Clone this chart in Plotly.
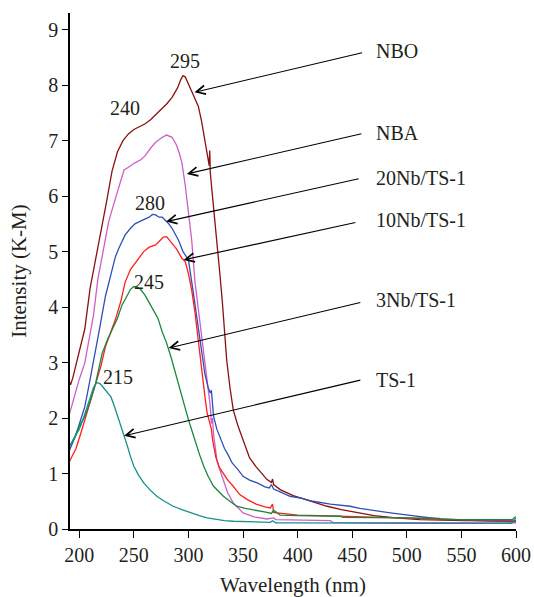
import plotly.graph_objects as go

# ---------------- data ----------------
wl_nbo = [190, 192, 194, 197, 200, 205, 210, 215, 220, 225, 230, 235, 240, 245, 250, 255, 260, 265, 270, 275,
          280, 285, 290, 293, 295, 297, 300, 303, 306, 309, 312, 315, 318, 319, 319.5, 320, 322, 325, 327, 329,
          331, 333, 335, 338, 341, 345, 350, 356, 362, 368, 372, 376, 377, 378, 384, 396, 415, 427, 440, 457,
          470, 490, 512, 553, 600]
int_nbo = [2.7, 2.6, 2.72, 2.95, 3.2, 3.6, 4.35, 4.85, 5.35, 5.9, 6.45, 6.8, 7.0, 7.12, 7.2, 7.25, 7.3, 7.37, 7.47, 7.56,
           7.66, 7.78, 7.95, 8.1, 8.17, 8.15, 8.02, 7.9, 7.78, 7.62, 7.35, 7.0, 6.68, 6.55, 6.82, 6.42, 6.0, 5.42, 4.97, 4.55,
           4.1, 3.6, 3.05, 2.55, 2.15, 1.88, 1.62, 1.28, 1.12, 0.97, 0.89, 0.84, 0.9, 0.8, 0.71, 0.6, 0.49, 0.41, 0.35, 0.28,
           0.24, 0.2, 0.17, 0.15, 0.14]

wl_nba = [190, 192, 196, 200, 205, 210, 213, 217, 221, 227, 233, 237, 241, 245, 251, 256, 260, 266, 270, 276,
          280, 285, 289, 292, 294, 297, 300, 303, 306, 309, 312, 315, 317, 320, 321, 322, 323, 326, 329, 332,
          336, 341, 346, 350, 360, 372, 378, 380, 430, 432, 600]
int_nba = [2.0, 2.15, 2.45, 2.7, 2.99, 3.5, 3.85, 4.5, 4.9, 5.55, 5.95, 6.2, 6.47, 6.52, 6.6, 6.65, 6.72, 6.88, 6.97, 7.06,
           7.1, 7.06, 6.92, 6.75, 6.6, 6.2, 5.75, 5.2, 4.45, 3.95, 3.5, 3.0, 2.62, 2.21, 1.9, 2.0, 1.7, 1.25, 1.05, 0.89,
           0.65, 0.47, 0.36, 0.29, 0.22, 0.18, 0.2, 0.17, 0.15, 0.12, 0.11]

wl_20nb = [190, 193, 197, 201, 205, 208, 212, 218, 224, 229, 233, 236, 242, 247, 251, 256, 260, 264, 267, 270,
           273, 276, 279, 282, 285, 288, 291, 295, 300, 304, 309, 312, 315, 318, 320, 321, 322, 323, 326, 330,
           333, 336, 340, 345, 350, 356, 363, 370, 374, 376, 378, 385, 393, 404, 414, 430, 448, 457, 470, 485,
           505, 530, 555, 576, 600]
int_20nb = [1.37, 1.5, 1.7, 1.95, 2.2, 2.5, 2.9, 3.55, 4.2, 4.6, 4.9, 5.05, 5.3, 5.42, 5.5, 5.55, 5.58, 5.62, 5.67, 5.66,
            5.62, 5.62, 5.56, 5.5, 5.42, 5.32, 5.2, 5.0, 4.85, 4.32, 3.6, 3.2, 2.8, 2.55, 2.45, 2.5, 2.2, 2.03, 1.8, 1.6,
            1.45, 1.35, 1.19, 1.08, 0.95, 0.88, 0.83, 0.76, 0.74, 0.8, 0.72, 0.66, 0.59, 0.55, 0.5, 0.45, 0.41, 0.37, 0.33, 0.29,
            0.24, 0.18, 0.16, 0.14, 0.13]

wl_10nb = [190, 193, 197, 201, 205, 210, 215, 220, 224, 229, 233, 238, 242, 247, 254, 259, 264, 270, 274, 277,
           280, 282, 285, 289, 294, 297, 300, 303, 306, 308, 312, 315, 317, 319, 321, 322, 325, 328, 332, 336,
           341, 347, 354, 362, 370, 375, 377, 378, 381, 390, 400, 420, 439, 470, 500, 550, 600]
int_10nb = [1.18, 1.3, 1.45, 1.7, 1.97, 2.3, 2.63, 2.95, 3.29, 3.55, 3.77, 4.1, 4.45, 4.68, 4.88, 5.0, 5.08, 5.12, 5.2, 5.26,
            5.27, 5.22, 5.15, 5.05, 4.88, 4.82, 4.6, 4.3, 3.9, 3.55, 2.85, 2.4, 2.1, 1.95, 1.8, 1.62, 1.3, 1.12, 1.0, 0.88,
            0.77, 0.62, 0.53, 0.45, 0.4, 0.38, 0.45, 0.3, 0.29, 0.27, 0.25, 0.24, 0.23, 0.2, 0.19, 0.17, 0.15]

wl_3nb = [190, 193, 196, 200, 205, 210, 215, 221, 226, 230, 235, 239, 244, 247, 250, 253, 256, 260, 264, 268,
          272, 276, 280, 284, 288, 292, 296, 300, 305, 310, 314, 318, 323, 328, 332, 338, 344, 352, 362, 372,
          376, 378, 384, 400, 440, 441, 500, 530, 531, 597, 598, 600]
int_3nb = [1.49, 1.55, 1.67, 1.85, 2.03, 2.3, 2.63, 3.17, 3.42, 3.59, 3.8, 4.03, 4.22, 4.32, 4.37, 4.36, 4.32, 4.22, 4.08, 3.94,
           3.8, 3.55, 3.35, 3.1, 2.8, 2.53, 2.25, 1.97, 1.65, 1.35, 1.13, 0.95, 0.77, 0.66, 0.59, 0.5, 0.41, 0.37, 0.34, 0.3,
           0.28, 0.34, 0.25, 0.24, 0.23, 0.21, 0.2, 0.19, 0.17, 0.17, 0.2, 0.22]

wl_ts1 = [190, 193, 196, 200, 203, 206, 210, 213, 216, 219, 222, 226, 229, 232, 235, 238, 241, 244, 247, 250,
          254, 259, 265, 271, 278, 286, 294, 302, 310, 317, 325, 333, 341, 355, 370, 375, 377, 380, 400, 450,
          500, 550, 596, 598, 600]
int_ts1 = [1.45, 1.55, 1.65, 1.8, 1.95, 2.12, 2.38, 2.55, 2.64, 2.62, 2.55, 2.45, 2.38, 2.22, 2.05, 1.88, 1.7, 1.5, 1.3, 1.13,
           0.98, 0.83, 0.7, 0.59, 0.5, 0.41, 0.35, 0.29, 0.24, 0.2, 0.17, 0.15, 0.14, 0.13, 0.12, 0.12, 0.15, 0.11, 0.11, 0.1,
           0.1, 0.1, 0.1, 0.15, 0.2]

series_names = ["NBO", "NBA", "20Nb/TS-1", "10Nb/TS-1", "3Nb/TS-1", "TS-1"]
series_x = [wl_nbo, wl_nba, wl_20nb, wl_10nb, wl_3nb, wl_ts1]
series_y = [int_nbo, int_nba, int_20nb, int_10nb, int_3nb, int_ts1]
series_colors = ["#8B1010", "#CC5FC8", "#2F4FB8", "#FF1E1E", "#17883A", "#17908E"]

# arrow head (on curve), arrow tail (near label), label y
arrow_head_x = [305.5, 298.5, 279.5, 295.5, 281.8, 241.0]
arrow_head_y = [7.87, 6.40, 5.54, 4.85, 3.26, 1.68]
arrow_tail_x = [460.4, 459.8, 457.3, 454.3, 458.8, 458.8]
arrow_tail_y = [8.59, 7.13, 6.32, 5.53, 4.09, 2.69]
label_x = 470.0
label_y = [8.61, 7.13, 6.32, 5.57, 4.13, 2.69]

peak_labels = ["295", "240", "280", "245", "215"]
peak_x = [296.4, 242.1, 264.4, 263.5, 235.1]
peak_y = [8.44, 7.59, 5.87, 4.45, 2.74]

x_ticks = [200, 250, 300, 350, 400, 450, 500, 550, 600]
y_ticks = [0, 1, 2, 3, 4, 5, 6, 7, 8, 9]

FONT = "Liberation Serif, Times New Roman, serif"
TXT = "#231f20"
FS = 20

fig = go.Figure()
for name, xs, ys, c in zip(series_names, series_x, series_y, series_colors):
    fig.add_trace(go.Scatter(x=xs, y=ys, mode="lines", name=name,
                             line=dict(color=c, width=1.3), showlegend=False))

annotations = []
for hx, hy, tx, ty in zip(arrow_head_x, arrow_head_y, arrow_tail_x, arrow_tail_y):
    annotations.append(dict(x=hx, y=hy, ax=tx, ay=ty, xref="x", yref="y", axref="x", ayref="y",
                            text="", showarrow=True, arrowhead=5, arrowsize=1.6, arrowwidth=1.1,
                            arrowcolor="black", standoff=0))
for name, ly in zip(series_names, label_y):
    annotations.append(dict(x=label_x, y=ly, xref="x", yref="y", text=name, showarrow=False,
                            xanchor="left", yanchor="middle", font=dict(family=FONT, size=FS, color=TXT)))
for t, px, py in zip(peak_labels, peak_x, peak_y):
    annotations.append(dict(x=px, y=py, xref="x", yref="y", text=t, showarrow=False,
                            xanchor="center", yanchor="middle", font=dict(family=FONT, size=FS, color=TXT)))

fig.update_layout(
    width=534, height=597,
    margin=dict(l=70, r=18, t=13, b=68),
    paper_bgcolor="white", plot_bgcolor="white",
    font=dict(family=FONT, size=FS, color=TXT),
    annotations=annotations,
    xaxis=dict(range=[191.5, 600], tickvals=x_ticks, ticks="outside", ticklen=7, tickwidth=1.3,
               tickcolor="black", showline=True, linecolor="black", linewidth=1.5, showgrid=False,
               zeroline=False, automargin=False, tickfont=dict(family=FONT, size=FS, color=TXT),
               title=dict(text="Wavelength (nm)", font=dict(family=FONT, size=21, color=TXT), standoff=14)),
    yaxis=dict(range=[0, 9.3], tickvals=y_ticks, ticks="outside", ticklen=6, tickwidth=1.3,
               tickcolor="black", showline=True, linecolor="black", linewidth=1.5, showgrid=False,
               zeroline=False, automargin=False, tickfont=dict(family=FONT, size=FS, color=TXT),
               title=dict(text="Intensity (K-M)", font=dict(family=FONT, size=21, color=TXT), standoff=16)),
)

# remove the page's default body margin so the 534x597 figure fills the window exactly
fig.write_html("out.html", config={"displayModeBar": False},
               post_script="document.body.style.margin='0';document.body.style.overflow='hidden';")
